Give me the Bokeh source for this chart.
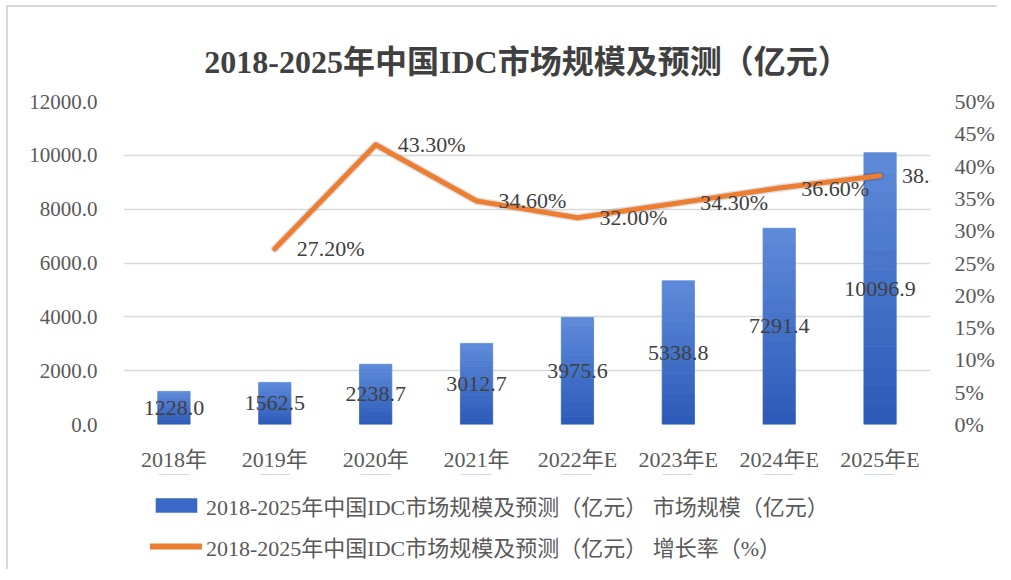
from bokeh.plotting import figure
from bokeh.layouts import column
from bokeh.models import (Range1d, LinearAxis, FixedTicker, PrintfTickFormatter,
                          ColumnDataSource, LabelSet, Legend, LegendItem, Title)
from bokeh.core.properties import value
from bokeh.embed import file_html
from bokeh.resources import INLINE

years = ["2018年", "2019年", "2020年", "2021年", "2022年E", "2023年E", "2024年E", "2025年E"]
market = [1228.0, 1562.5, 2238.7, 3012.7, 3975.6, 5338.8, 7291.4, 10096.9]
growth_years = ["2019年", "2020年", "2021年", "2022年E", "2023年E", "2024年E", "2025年E"]
growth = [27.2, 43.3, 34.6, 32.0, 34.3, 36.6, 38.5]
left_ticks = [0, 2000, 4000, 6000, 8000, 10000, 12000]
right_ticks = [0, 5, 10, 15, 20, 25, 30, 35, 40, 45, 50]
title_text = "2018-2025年中国IDC市场规模及预测（亿元）"
legend_bar = "2018-2025年中国IDC市场规模及预测（亿元） 市场规模（亿元）"
legend_line = "2018-2025年中国IDC市场规模及预测（亿元） 增长率（%）"

FONT = value("Liberation Serif, Noto Sans CJK SC")
FONT_S = "Liberation Serif, Noto Sans CJK SC"
ORANGE = "#ED7D31"

p = figure(x_range=years, y_range=Range1d(0, 12000), frame_width=807, frame_height=323,
           output_backend="svg", toolbar_location=None,
           min_border_left=115, min_border_right=66, min_border_top=94, min_border_bottom=40)
p.extra_y_ranges = {"pct": Range1d(0, 50)}
p.outline_line_color = None

# gradient bars (bands from bottom dark to top light)
N = 14
c0 = (0x2C, 0x5A, 0xB8)
c1 = (0x5E, 0x8B, 0xDA)
for k in range(N):
    t = (k + 0.5) / N
    col = "#%02x%02x%02x" % tuple(int(c0[i] + (c1[i] - c0[i]) * t) for i in range(3))
    src = ColumnDataSource(dict(x=years,
                                bottom=[v * k / N for v in market],
                                top=[v * (k + 1) / N for v in market]))
    p.vbar(x="x", bottom="bottom", top="top", width=0.32, source=src,
           fill_color=col, line_color=col, line_width=0.8)

# bar labels
bsrc = ColumnDataSource(dict(x=years, y=[v / 2 for v in market],
                             t=["%.1f" % v for v in market]))
p.add_layout(LabelSet(x="x", y="y", text="t", source=bsrc, text_align="center",
                      text_baseline="middle", text_font=FONT, text_font_size="22px",
                      text_color="#404040"))

# growth line
gsrc = ColumnDataSource(dict(x=growth_years, y=growth, t=["%.2f%%" % g for g in growth]))
p.line(x="x", y="y", source=gsrc, y_range_name="pct", line_color="#000000",
       line_alpha=0.12, line_width=8, line_join="round", line_cap="round")
p.line(x="x", y="y", source=gsrc, y_range_name="pct", line_color=ORANGE,
       line_width=5, line_join="round", line_cap="round")
p.add_layout(LabelSet(x="x", y="y", text="t", source=gsrc, y_range_name="pct",
                      x_offset=22, text_align="left", text_baseline="middle",
                      text_font=FONT, text_font_size="22px", text_color="#404040"))

# axes
p.yaxis.ticker = FixedTicker(ticks=left_ticks)
p.yaxis.formatter = PrintfTickFormatter(format="%.1f")
ra = LinearAxis(y_range_name="pct", ticker=FixedTicker(ticks=right_ticks),
                formatter=PrintfTickFormatter(format="%d%%"))
p.add_layout(ra, "right")
for ax in [p.yaxis[0], ra, p.xaxis[0]]:
    ax.axis_line_color = None
    ax.major_tick_line_color = None
    ax.minor_tick_line_color = None
    ax.major_label_text_font = FONT_S
    ax.major_label_text_font_size = "22px"
    ax.major_label_text_color = "#595959"
p.yaxis[0].major_label_text_font_size = "21px"
p.yaxis[0].major_label_standoff = 20
ra.major_label_standoff = 18
p.xaxis.major_label_standoff = 16
p.xgrid.grid_line_color = None
p.ygrid.grid_line_color = "#D9D9D9"
p.ygrid.grid_line_width = 1.5

# title
p.title = Title(text=title_text, align="center", text_font=FONT_S,
                text_font_size="32px", text_font_style="bold", text_color="#404040",
                standoff=44, offset=15)

# legend panel below the chart (series mapped far outside the visible range)
p2 = figure(width=988, height=95, x_range=years, y_range=Range1d(-1e6, -0.9e6),
            output_backend="svg", toolbar_location=None, min_border=0)
p2.axis.visible = False
p2.grid.visible = False
p2.outline_line_color = None
p2.background_fill_alpha = 0
lsrc_b = ColumnDataSource(dict(x=years, top=market))
lsrc_l = ColumnDataSource(dict(x=growth_years, y=growth))
lb = p2.vbar(x="x", top="top", source=lsrc_b, width=0.3,
             fill_color="#3A68C6", line_color=None)
ll = p2.line(x="x", y="y", source=lsrc_l, line_color=ORANGE, line_width=6, line_cap="round")
legend = Legend(items=[LegendItem(label=legend_bar, renderers=[lb]),
                       LegendItem(label=legend_line, renderers=[ll])],
                location=(27, 7), orientation="vertical",
                label_text_font=FONT_S, label_text_font_size="22px",
                label_text_color="#595959", glyph_width=52, glyph_height=18,
                spacing=9, border_line_color=None, background_fill_alpha=0,
                label_standoff=4, margin=0, padding=0)
p2.add_layout(legend, "center")

layout = column(p, p2, spacing=0, margin=(5, 0, 0, 6),
                styles={"border-left": "2px solid #d9d9d9", "border-top": "2px solid #d9d9d9"})

open("out.html", "w").write(file_html(layout, INLINE))
